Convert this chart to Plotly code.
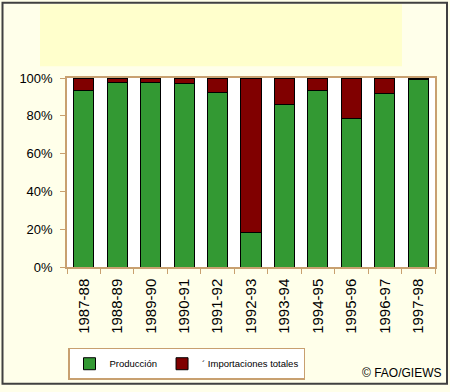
import plotly.graph_objects as go

campaigns = ["1987-88", "1988-89", "1989-90", "1990-91", "1991-92", "1992-93",
             "1993-94", "1994-95", "1995-96", "1996-97", "1997-98"]
produccion = [93.5, 97.5, 97.5, 97.0, 92.5, 18.0, 86.0, 93.5, 78.5, 92.0, 99.0]
importaciones = [6.5, 2.5, 2.5, 3.0, 7.5, 82.0, 14.0, 6.5, 21.5, 8.0, 1.0]
y_ticks = [0, 20, 40, 60, 80, 100]
y_tick_labels = ["0%", "20%", "40%", "60%", "80%", "100%"]

TAN = "#C8A070"
FONT = "Liberation Sans, Arial, sans-serif"

fig = go.Figure()
fig.add_trace(go.Bar(x=campaigns, y=produccion, name="Producción",
                     marker=dict(color="#339933", line=dict(color="black", width=1))))
fig.add_trace(go.Bar(x=campaigns, y=importaciones, name="´ Importaciones totales",
                     marker=dict(color="#800000", line=dict(color="black", width=1))))

# plot area: x 67..435, y 78..270 (px)
L, R, T, B = 67, 15, 78, 122
W, H = 450, 392
pw, ph = W - L - R, H - T - B

def px(x):
    return (x - L) / pw

def py(y):
    return (H - B - y) / ph

fig.update_layout(
    width=W, height=H,
    margin=dict(l=L, r=R, t=T, b=B, pad=0),
    barmode="stack", bargap=0.4,
    paper_bgcolor="#FFFFEA", plot_bgcolor="white",
    font=dict(family=FONT, size=12, color="black"),
    showlegend=True,
    legend=dict(orientation="h", x=px(68), y=py(352), xanchor="left", yanchor="top",
                bgcolor="white", bordercolor=TAN, borderwidth=1.5,
                font=dict(size=9.5, family=FONT), itemwidth=30, traceorder="normal"),
    xaxis=dict(type="category", showline=True, linecolor=TAN, linewidth=1.5, mirror=True,
               ticks="outside", tickcolor=TAN, ticklen=5, tickson="boundaries",
               tickangle=-90, tickfont=dict(size=15), ticklabelstandoff=4,
               showgrid=False, fixedrange=True),
    yaxis=dict(range=[0, 100], tickvals=y_ticks, ticktext=y_tick_labels,
               showline=True, linecolor=TAN, linewidth=1.5, mirror=True,
               ticks="outside", tickcolor=TAN, ticklen=5, showgrid=False,
               tickfont=dict(size=13), ticklabelstandoff=5, fixedrange=True),
    shapes=[
        dict(type="rect", xref="paper", yref="paper", layer="below",
             x0=px(40), x1=px(402), y0=py(66), y1=py(3),
             fillcolor="#FFFFCC", line=dict(width=0)),
        dict(type="rect", xref="paper", yref="paper",
             x0=px(2.5), x1=px(447), y0=py(388.5), y1=py(1.5),
             fillcolor="rgba(0,0,0,0)", line=dict(color="#404040", width=2)),
    ],
    annotations=[
        dict(text="© FAO/GIEWS", xref="paper", yref="paper", x=px(444), y=py(378),
             xanchor="right", yanchor="middle", showarrow=False,
             font=dict(size=12, family=FONT, color="black")),
    ],
)

fig.write_html("out.html", config={"displayModeBar": False},
               post_script="document.body.style.margin='0px';document.body.style.overflow='hidden';")
